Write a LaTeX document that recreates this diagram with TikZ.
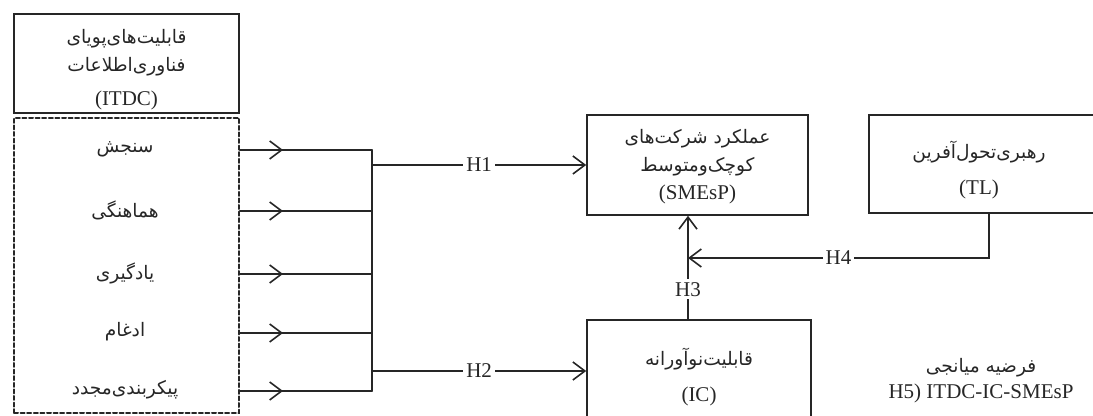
\documentclass[tikz,border=0pt]{standalone}
\usepackage{fontspec}
\setmainfont{Liberation Serif}
\newfontfamily\fafont[Script=Arabic]{DejaVu Sans}
\TeXXeTstate=1
\usetikzlibrary{arrows.meta}
\newcommand{\fa}[1]{{\fafont\fontsize{9.3}{14}\selectfont\beginR #1\endR}}

\begin{document}
\begin{tikzpicture}[x=0.5pt, y=-0.5pt, line cap=round, black!85,
  every node/.style={font=\fontsize{10.5}{14}\selectfont, text=black!85},
  box/.style={draw, line width=0.8pt, inner sep=0pt},
  txt/.style={align=center, yshift=-3pt},
  link/.style={line width=0.8pt},
  tip/.style={line width=0.8pt, -{Straight Barb[length=6pt,width=9pt]}},
  hlab/.style={fill=white, inner sep=1.5pt}]
  \useasboundingbox (0,0) rectangle (1093,416);
  \clip (0,0) rectangle (1093,416);

  % boxes
  \node[box, minimum width=112.5pt, minimum height=49.5pt] (itdc) at (126.5,63.5) {};
  \node[box, dashed, dash pattern=on 2pt off 1.3pt, line width=1pt,
    minimum width=112.5pt, minimum height=147.5pt] (dims) at (126.5,265.5) {};
  \node[box, minimum width=110.5pt, minimum height=50pt] (smesp) at (697.5,165) {};
  \node[box, minimum width=115pt, minimum height=49pt] (tl) at (984,164) {};
  \node[box, minimum width=112pt, minimum height=51pt] (ic) at (699,371) {};

  % box texts
  \node[txt] (itdct) at (itdc) {\fa{قابلیت‌های‌پویای}\\ \fa{فناوری‌اطلاعات}\\[3pt] (ITDC)};
  \node[txt, yshift=2pt] (smespt) at (smesp) {\fa{عملکرد شرکت‌های}\\ \fa{کوچک‌ومتوسط}\\ (SMEsP)};
  \node[txt, xshift=-2.5pt] (tlt) at (tl) {\fa{رهبری‌تحول‌آفرین}\\[4pt] (TL)};
  \node[txt] (ict) at (ic) {\fa{قابلیت‌نوآورانه}\\[4pt] (IC)};
  \node[txt] (med) at (981,375) {\fa{فرضیه میانجی}\\[-1pt] H5) ITDC-IC-SMEsP};

  % dimensions
  \foreach \y/\lab [count=\i] in {150/سنجش,211/هماهنگی,274/یادگیری,333/ادغام,391/پیکربندی‌مجدد}{
    \node (d\i) at (125,\y-1) {\fa{\lab}};
    \coordinate (j\i) at (372,\y);
    \draw[link] (dims.east |- j\i) -- (j\i);
    \draw[tip] (dims.east |- j\i) -- ++(43,0);
  }
  \draw[link] (j1) -- (j5);

  % hypotheses
  \coordinate (k) at (688,258);
  \coordinate (t) at (989,258);
  \draw[tip] (smesp.west -| j1) -- node[hlab] {H1} (smesp.west);
  \draw[tip] (ic.west -| j1) -- node[hlab] {H2} (ic.west);
  \draw[tip] (ic.north -| k) -- node[hlab, pos=0.29] {H3} (smesp.south -| k);
  \draw[tip] (tl.south -| t) |- node[hlab, pos=0.75] {H4} (k);
\end{tikzpicture}
\end{document}
